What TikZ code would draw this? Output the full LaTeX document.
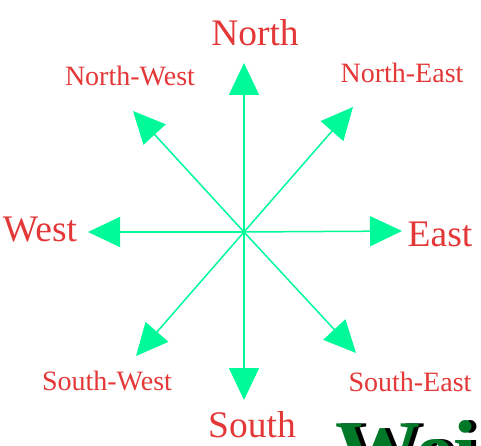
\documentclass[tikz,border=0pt]{standalone}
\usepackage{fontspec}
\setmainfont{Liberation Serif}
\usepackage{xcolor}
\usepackage{tikz}
\usetikzlibrary{arrows.meta,positioning}
\definecolor{dirred}{RGB}{228, 55, 55}
\definecolor{dirgreen}{RGB}{0, 250, 154}
\definecolor{markgreen}{RGB}{0, 120, 40}

\begin{document}
\begin{tikzpicture}[x=1pt, y=-1pt,
    big/.style={text=dirred, inner sep=0pt, font=\fontsize{37.5}{40}\selectfont},
    small/.style={text=dirred, inner sep=0pt, font=\fontsize{28}{30}\selectfont},
    arrow/.style={-{Triangle[length=32pt, width=30pt]}, line width=1.5pt, dirgreen},
    watermark/.style={anchor=base west, inner sep=0pt, font=\fontsize{85}{90}\selectfont\bfseries}
]
\useasboundingbox (0,0) rectangle (481,446);
\clip (0,0) rectangle (481,446);

% Nodes
\coordinate (centre) at (244,232);
\coordinate (n) at (244,63);
\coordinate (s) at (244,400);
\coordinate (e) at (402,231);
\coordinate (w) at (88,232);
\coordinate (ne) at (353,107);
\coordinate (nw) at (133,111);
\coordinate (sw) at (136,356);
\coordinate (se) at (356,353);

\node[big] (north) at (255,33) {North};
\node[big] (south) at (252,425) {South};
\node[big] (east) at (440,234) {East};
\node[big] (west) at (40,230) {West};
\node[small] (northwest) at (130,76) {North-West};
\node[small] (northeast) at (402,73) {North-East};
\node[small] (southwest) at (107,381) {South-West};
\node[small] (southeast) at (410,382) {South-East};

% Arrows
\draw[arrow] (centre) -- (n);
\draw[arrow] (centre) -- (s);
\draw[arrow] (centre) -- (e);
\draw[arrow] (centre) -- (w);
\draw[arrow] (centre) -- (ne);
\draw[arrow] (centre) -- (nw);
\draw[arrow] (centre) -- (sw);
\draw[arrow] (centre) -- (se);

% Watermark, cut by the edge
\node[watermark, text=black] (markshadow) at (340,479) {Wei};
\node[watermark, text=markgreen] (markfront) at (335,479) {Wei};
\end{tikzpicture}
\end{document}
